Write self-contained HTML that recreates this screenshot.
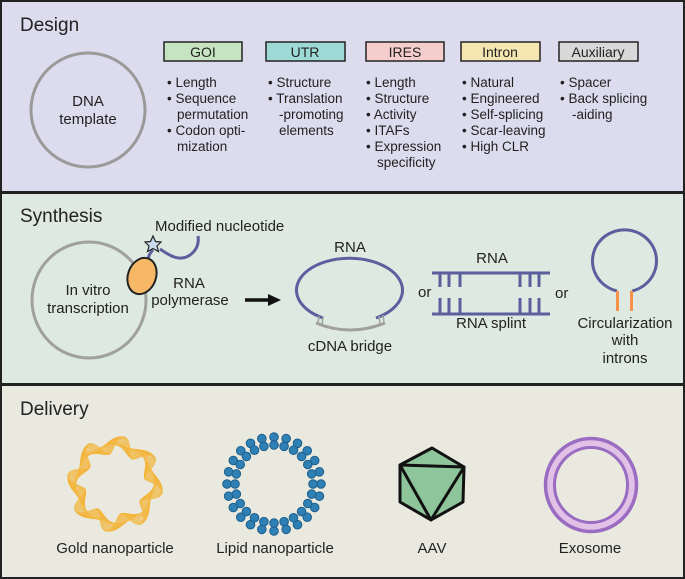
<!DOCTYPE html>
<html><head><meta charset="utf-8">
<style>
html,body{margin:0;padding:0;background:#fff}
svg{display:block}
text{font-family:"Liberation Sans",Arial,sans-serif;fill:#222}
</style></head>
<body>
<svg id="s" width="685" height="579" viewBox="0 0 685 579" xmlns="http://www.w3.org/2000/svg">
<rect x="1" y="1" width="683" height="191" fill="#dcdcee" stroke="#222" stroke-width="2"/>
<rect x="1" y="193" width="683" height="191" fill="#dde9e1" stroke="#222" stroke-width="2"/>
<rect x="1" y="385" width="683" height="193" fill="#e9e9df" stroke="#222" stroke-width="2"/>

<!-- DESIGN -->
<text x="20" y="31" font-size="19">Design</text>
<ellipse cx="88" cy="110" rx="57" ry="57" fill="none" stroke="#9a9a9a" stroke-width="3"/>
<text x="88" y="106" font-size="15" text-anchor="middle">DNA</text>
<text x="88" y="124" font-size="15" text-anchor="middle">template</text>

<g stroke="#222" stroke-width="1.5">
<rect x="164" y="42" width="78" height="19" fill="#c6e4c1"/>
<rect x="266" y="42" width="79" height="19" fill="#9dd9d5"/>
<rect x="366" y="42" width="78" height="19" fill="#f6cdcd"/>
<rect x="461" y="42" width="79" height="19" fill="#f5e6b1"/>
<rect x="559" y="42" width="79" height="19" fill="#d8d8d8"/>
</g>
<g font-size="14" text-anchor="middle">
<text x="203" y="57">GOI</text>
<text x="305" y="57">UTR</text>
<text x="405" y="57">IRES</text>
<text x="500" y="57">Intron</text>
<text x="598" y="57">Auxiliary</text>
</g>
<g font-size="13.5">
<text x="167" y="87">• Length</text>
<text x="167" y="103">• Sequence</text>
<text x="177" y="119">permutation</text>
<text x="167" y="135">• Codon opti-</text>
<text x="177" y="151">mization</text>

<text x="268" y="87">• Structure</text>
<text x="268" y="103">• Translation</text>
<text x="279" y="119">-promoting</text>
<text x="279" y="135">elements</text>

<text x="366" y="87">• Length</text>
<text x="366" y="103">• Structure</text>
<text x="366" y="119">• Activity</text>
<text x="366" y="135">• ITAFs</text>
<text x="366" y="151">• Expression</text>
<text x="377" y="167">specificity</text>

<text x="462" y="87">• Natural</text>
<text x="462" y="103">• Engineered</text>
<text x="462" y="119">• Self-splicing</text>
<text x="462" y="135">• Scar-leaving</text>
<text x="462" y="151">• High CLR</text>

<text x="560" y="87">• Spacer</text>
<text x="560" y="103">• Back splicing</text>
<text x="572" y="119">-aiding</text>
</g>

<!-- SYNTHESIS -->
<text x="20" y="222" font-size="19">Synthesis</text>
<ellipse cx="89" cy="300" rx="57" ry="58" fill="none" stroke="#a0a0a0" stroke-width="3"/>
<text x="88" y="295" font-size="15" text-anchor="middle">In vitro</text>
<text x="88" y="313" font-size="15" text-anchor="middle">transcription</text>
<path d="M148,262 C148,256 150,253 153,250" fill="none" stroke="#5c5f9e" stroke-width="3"/>
<path d="M160,249 C170,256 180,262 190,255 C197,250 199,243 198,236" fill="none" stroke="#5c5f9e" stroke-width="3"/>
<polygon points="153,236 155.5,241.5 161,242 157,246 158.5,251.5 153,248.5 147.5,251.5 149,246 145,242 150.5,241.5" fill="#c9dcef" stroke="#222" stroke-width="1.2"/>
<ellipse cx="142" cy="276" rx="14" ry="18.5" transform="rotate(20 142 276)" fill="#f6b867" stroke="#222" stroke-width="2"/>
<text x="155" y="231" font-size="15">Modified nucleotide</text>
<text x="189" y="288" font-size="15" text-anchor="middle">RNA</text>
<text x="190" y="305" font-size="15" text-anchor="middle">polymerase</text>
<line x1="245" y1="300" x2="270" y2="300" stroke="#111" stroke-width="3.5"/>
<polygon points="268,294 281,300 268,306" fill="#111"/>

<path d="M323,318 A53,32 0 1 1 376,318" fill="none" stroke="#5c5f9e" stroke-width="3"/>
<path d="M316,323 Q350,337 385,323" fill="none" stroke="#a0a0a0" stroke-width="3"/>
<g stroke="#a0a0a0" stroke-width="1.5">
<line x1="319" y1="316" x2="318" y2="323"/><line x1="323" y1="317" x2="322" y2="325"/>
<line x1="379" y1="316" x2="380" y2="324"/><line x1="383" y1="315" x2="384" y2="323"/>
</g>
<text x="350" y="252" font-size="15" text-anchor="middle">RNA</text>
<text x="350" y="351" font-size="15" text-anchor="middle">cDNA bridge</text>

<text x="418" y="297" font-size="15">or</text>
<g stroke="#5c5f9e" stroke-width="3">
<line x1="432" y1="273" x2="550" y2="273"/>
<line x1="432" y1="314" x2="550" y2="314"/>
<line x1="440" y1="273" x2="440" y2="287"/><line x1="449" y1="273" x2="449" y2="287"/><line x1="460" y1="273" x2="460" y2="287"/>
<line x1="520" y1="273" x2="520" y2="287"/><line x1="530" y1="273" x2="530" y2="287"/><line x1="539" y1="273" x2="539" y2="287"/>
<line x1="440" y1="298" x2="440" y2="314"/><line x1="449" y1="298" x2="449" y2="314"/><line x1="460" y1="298" x2="460" y2="314"/>
<line x1="520" y1="298" x2="520" y2="314"/><line x1="530" y1="298" x2="530" y2="314"/><line x1="539" y1="298" x2="539" y2="314"/>
</g>
<text x="492" y="263" font-size="15" text-anchor="middle">RNA</text>
<text x="491" y="328" font-size="15" text-anchor="middle">RNA splint</text>

<text x="555" y="298" font-size="15">or</text>
<path d="M617,291 A32,31 0 1 1 632,291" fill="none" stroke="#5c5f9e" stroke-width="3"/>
<line x1="617.5" y1="291" x2="617.5" y2="311" stroke="#f7924a" stroke-width="3"/>
<line x1="631.5" y1="291" x2="631.5" y2="311" stroke="#f7924a" stroke-width="3"/>
<g font-size="15" text-anchor="middle">
<text x="625" y="328">Circularization</text>
<text x="625" y="345">with</text>
<text x="625" y="363">introns</text>
</g>

<!-- DELIVERY -->
<text x="20" y="415" font-size="19">Delivery</text>
<g id="gold" fill="none" stroke="#f3b53c" stroke-width="0.6"></g>
<text x="115" y="553" font-size="15" text-anchor="middle">Gold nanoparticle</text>
<g id="lipid" fill="#2f80b5" stroke="#1e5f8c" stroke-width="1"></g>
<text x="275" y="553" font-size="15" text-anchor="middle">Lipid nanoparticle</text>
<polygon points="432,448 464,467 463,502 431,520 400,502 400,465" fill="#8fc59b" stroke="#111" stroke-width="3" stroke-linejoin="round"/>
<polyline points="400,465 464,467 431,520 400,465" fill="none" stroke="#111" stroke-width="3" stroke-linejoin="round"/>
<text x="432" y="553" font-size="15" text-anchor="middle">AAV</text>
<ellipse cx="591" cy="485" rx="41" ry="42" fill="none" stroke="#e1c2e6" stroke-width="8"/>
<ellipse cx="591" cy="485" rx="45.5" ry="46.5" fill="none" stroke="#9a6cc2" stroke-width="3.5"/>
<ellipse cx="591" cy="485" rx="36.5" ry="37.5" fill="none" stroke="#9a6cc2" stroke-width="3"/>
<text x="590" y="553" font-size="15" text-anchor="middle">Exosome</text>
</svg>
<script>
(function(){
var ns="http://www.w3.org/2000/svg";
var g=document.getElementById("gold");
var cx=115,cy=484;
for(var k=0;k<18;k++){
  var ph=k*Math.PI/18, d="";
  for(var i=0;i<=360;i++){
    var t=i*Math.PI/180;
    var r=39+9*Math.sin(8*t+ph)*Math.cos(ph*0.5);
    var x=cx+r*Math.cos(t), y=cy+r*Math.sin(t);
    d+=(i?"L":"M")+x.toFixed(2)+","+y.toFixed(2);
  }
  var p=document.createElementNS(ns,"path");p.setAttribute("d",d+"Z");g.appendChild(p);
}
var l=document.getElementById("lipid");
var lx=274,ly=484,n=24;
for(var j=0;j<n;j++){
  var a=j*2*Math.PI/n;
  [47,39].forEach(function(rr){
    var c=document.createElementNS(ns,"circle");
    c.setAttribute("cx",(lx+rr*Math.cos(a)).toFixed(2));
    c.setAttribute("cy",(ly+rr*Math.sin(a)).toFixed(2));
    c.setAttribute("r","4.3");l.appendChild(c);
  });
}
})();
</script>
</body></html>
